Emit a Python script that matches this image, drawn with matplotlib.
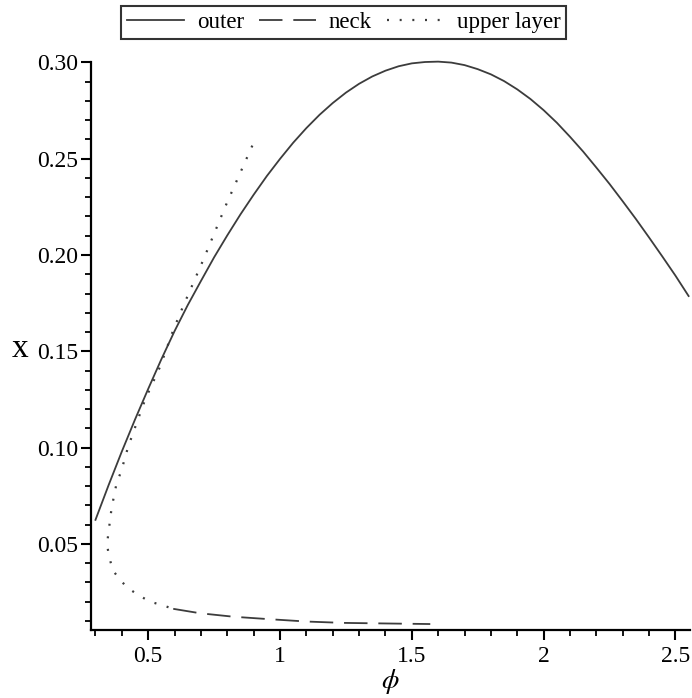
import numpy as np
import matplotlib
matplotlib.use("Agg")
import matplotlib.pyplot as plt
from matplotlib.ticker import MultipleLocator, FuncFormatter

plt.rcParams['font.family'] = ['Liberation Serif', 'DejaVu Serif']
plt.rcParams['mathtext.fontset'] = 'stix'

# values
outer_phi = [0.30, 0.35, 0.40, 0.45, 0.50, 0.55, 0.60, 0.65, 0.70, 0.75, 0.80, 0.85,
             0.90, 0.95, 1.00, 1.05, 1.10, 1.15, 1.20, 1.25, 1.30, 1.35, 1.40, 1.45,
             1.50, 1.55, 1.60, 1.65, 1.70, 1.75, 1.80, 1.85, 1.90, 1.95, 2.00, 2.05,
             2.10, 2.15, 2.20, 2.25, 2.30, 2.35, 2.40, 2.45, 2.50, 2.55]
outer_x = [0.0625, 0.0806, 0.0980, 0.1146, 0.1305, 0.1459, 0.1605, 0.1740, 0.1865,
           0.1988, 0.2102, 0.2211, 0.2313, 0.2410, 0.2499, 0.2583, 0.2659, 0.2728,
           0.2789, 0.2843, 0.2889, 0.2927, 0.2957, 0.2980, 0.2995, 0.3002, 0.3004,
           0.2999, 0.2986, 0.2965, 0.2938, 0.2903, 0.2860, 0.2810, 0.2752, 0.2687,
           0.2614, 0.2537, 0.2454, 0.2369, 0.2279, 0.2187, 0.2091, 0.1993, 0.1893,
           0.1787]

neck_phi = [0.595, 0.697, 0.823, 0.962, 1.101, 1.24, 1.40, 1.57]
neck_x = [0.0163, 0.0140, 0.0122, 0.0109, 0.0097, 0.0090, 0.0087, 0.0084]

upper_phi = [0.895, 0.798, 0.709, 0.631, 0.595, 0.545, 0.488, 0.456, 0.424, 0.397,
             0.380, 0.361, 0.349, 0.344, 0.345, 0.352, 0.365, 0.393, 0.424, 0.462,
             0.507, 0.551, 0.595]
upper_x = [0.2568, 0.2269, 0.1975, 0.1729, 0.161, 0.142, 0.1248, 0.1127, 0.1005, 0.0875,
           0.0815, 0.0685, 0.0556, 0.050, 0.0486, 0.0434, 0.0365, 0.0313, 0.027, 0.0235,
           0.020, 0.0183, 0.0163]

fig = plt.figure(figsize=(6.92, 6.98), dpi=100)
ax = fig.add_axes([0.1315, 0.0974, 0.8655, 0.8132])

col = '#3c3c3c'
ax.plot(outer_phi, outer_x, color=col, lw=1.3, label='outer', clip_on=False)
ax.plot(neck_phi, neck_x, color=col, lw=1.3, dashes=(13, 6), label='neck', clip_on=False)
ax.plot(upper_phi, upper_x, color=col, lw=1.6, dashes=(0.9, 4.8), label='upper layer',
        clip_on=False)

ax.set_xlim(0.283, 2.555)
ax.set_ylim(0.0053, 0.30)
ax.spines['top'].set_visible(False)
ax.spines['right'].set_visible(False)
for s in ('left', 'bottom'):
    ax.spines[s].set_linewidth(1.6)
    ax.spines[s].set_color('black')

ax.xaxis.set_major_locator(MultipleLocator(0.5))
ax.xaxis.set_minor_locator(MultipleLocator(0.1))
ax.yaxis.set_major_locator(MultipleLocator(0.05))
ax.yaxis.set_minor_locator(MultipleLocator(0.01))
ax.xaxis.set_major_formatter(FuncFormatter(lambda v, p: '%g' % v))
ax.yaxis.set_major_formatter(FuncFormatter(lambda v, p: '%.2f' % v))
ax.tick_params(which='major', length=7.5, width=1.5, labelsize=17, pad=1.5)
ax.tick_params(which='minor', length=4, width=1.3)
ax.tick_params(axis='x', which='major', pad=4)

ax.set_xlabel(r'$\phi$', fontsize=20, labelpad=0)
ax.set_ylabel('x', fontsize=24, rotation=0, va='center', ha='center')
ax.yaxis.set_label_coords(-0.118, 0.495)

leg = fig.legend(loc='center', bbox_to_anchor=(0.497, 0.968), ncol=3, fontsize=16.5,
                 frameon=True, fancybox=False, shadow=False, handlelength=2.5,
                 handletextpad=0.55, columnspacing=0.65, borderpad=0.25,
                 borderaxespad=0)
leg.get_frame().set_edgecolor('black')
leg.get_frame().set_linewidth(1.5)

fig.savefig('out.png', dpi=100)
